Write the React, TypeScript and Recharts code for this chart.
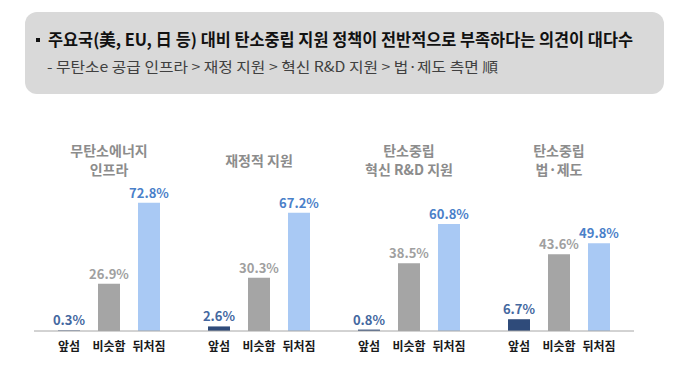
import { BarChart, Bar, XAxis, YAxis, LabelList } from "recharts";

const groups = ["무탄소에너지\n인프라", "재정적 지원", "탄소중립\n혁신 R&D 지원", "탄소중립\n법·제도"];
const ahead = [0.3, 2.6, 0.8, 6.7];
const similar = [26.9, 30.3, 38.5, 43.6];
const behind = [72.8, 67.2, 60.8, 49.8];
const answerLabels = ["앞섬", "비슷함", "뒤처짐"];

const headline = "주요국(美, EU, 日 등) 대비 탄소중립 지원 정책이 전반적으로 부족하다는 의견이 대다수";
const subline = "- 무탄소e 공급 인프라 > 재정 지원 > 혁신 R&D 지원 > 법·제도 측면 順";

const FONT = "'Noto Sans CJK KR', 'Noto Sans', sans-serif";

const rows = groups.map((g, i) => ({
  group: g,
  ahead: ahead[i],
  similar: similar[i],
  behind: behind[i],
}));

// group name above each cluster, one or two lines
const TitleTick = (props: any) => {
  const { x, payload } = props;
  const lines = String(payload.value).split("\n");
  const mid = 160.5;
  const gap = 19;
  const start = mid - ((lines.length - 1) * gap) / 2;
  return (
    <g>
      {lines.map((l, i) => (
        <text
          key={i}
          x={x}
          y={start + i * gap + 5}
          textAnchor="middle"
          fill="#8C8C8C"
          fontSize={14}
          fontWeight={700}
          fontFamily={FONT}
        >
          {l}
        </text>
      ))}
    </g>
  );
};

// three answer labels under each cluster
const AnswerTick = (props: any) => {
  const { x } = props;
  return (
    <g>
      {answerLabels.map((l, i) => (
        <text
          key={l}
          x={x + (i - 1) * 40}
          y={351}
          textAnchor="middle"
          fill="#1a1a1a"
          fontSize={12}
          fontWeight={700}
          fontFamily={FONT}
        >
          {l}
        </text>
      ))}
    </g>
  );
};

const pct = (v: any) => `${Number(v).toFixed(1)}%`;

const App = () => {
  return (
    <div style={{ position: "absolute", left: 0, top: 0, width: 680, height: 379, background: "#fff", fontFamily: FONT }}>
      <svg width={680} height={100} style={{ position: "absolute", left: 0, top: 0 }}>
        <rect x={25} y={12} width={639} height={82} rx={12} fill="#D9D9D9" />
        <rect x={36} y={38} width={4} height={4} fill="#111" />
        <text x={48} y={46} fontSize={17} fontWeight={700} fill="#111" fontFamily={FONT} textLength={585} lengthAdjust="spacingAndGlyphs">
          {headline}
        </text>
        <text x={47} y={72} fontSize={14} fill="#404040" fontFamily={FONT} textLength={451} lengthAdjust="spacingAndGlyphs">
          {subline}
        </text>
      </svg>
      <div style={{ position: "absolute", left: 0, top: 0 }}>
        <BarChart width={680} height={379} data={rows} margin={{ top: 115, right: 46, bottom: 18, left: 34 }} barSize={22} barGap={18}>
          <XAxis xAxisId="top" orientation="top" dataKey="group" height={40} axisLine={false} tickLine={false} tick={<TitleTick />} interval={0} />
          <XAxis xAxisId="bottom" dataKey="group" height={30} axisLine={{ stroke: "#A6A6A6" }} tickLine={false} tick={<AnswerTick />} interval={0} />
          <YAxis hide domain={[0, 100]} />
          <Bar xAxisId="bottom" dataKey="ahead" fill="#2F4B7A" isAnimationActive={false}>
            <LabelList dataKey="ahead" position="top" offset={5} formatter={pct} fill="#44689F" fontSize={13} fontWeight={700} fontFamily={FONT} />
          </Bar>
          <Bar xAxisId="bottom" dataKey="similar" fill="#A5A5A5" isAnimationActive={false}>
            <LabelList dataKey="similar" position="top" offset={5} formatter={pct} fill="#A0A0A0" fontSize={13} fontWeight={700} fontFamily={FONT} />
          </Bar>
          <Bar xAxisId="bottom" dataKey="behind" fill="#A9C9F4" isAnimationActive={false}>
            <LabelList dataKey="behind" position="top" offset={5} formatter={pct} fill="#4A80C9" fontSize={13} fontWeight={700} fontFamily={FONT} />
          </Bar>
        </BarChart>
      </div>
    </div>
  );
};

export default App;
